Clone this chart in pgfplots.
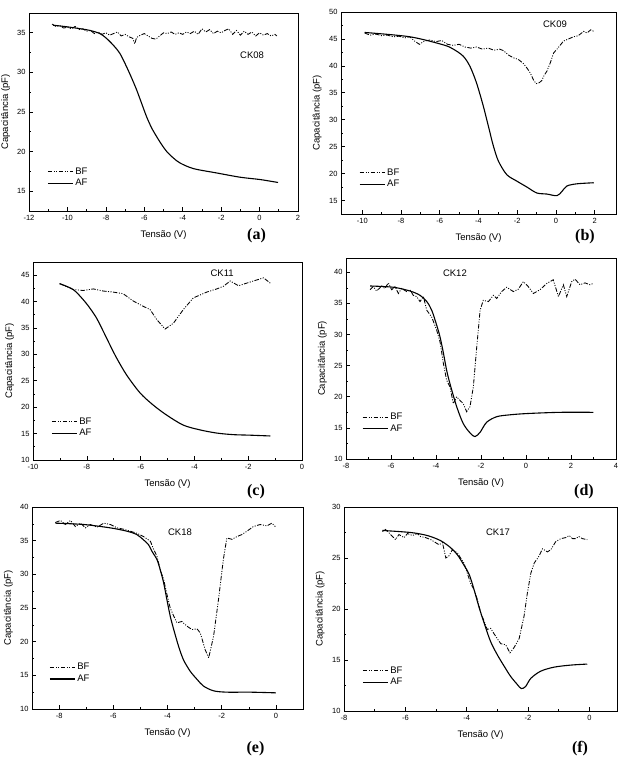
\documentclass[border=0pt]{standalone}
\usepackage{fontspec}
\setmainfont{Liberation Sans}
\newfontfamily\lettersfont{Liberation Serif}
\usepackage{pgfplots}
\pgfplotsset{compat=1.18}
\tikzset{cklabel/.style={font=\fontsize{9.5}{10}\selectfont}}
\pgfplotsset{
  panel/.style={
    scale only axis,
    anchor=south west,
    axis line style={line width=0.7pt},
    tick align=inside,
    xtick pos=bottom, ytick pos=left,
    minor x tick num=1, minor y tick num=1,
    major tick length=3.5pt, minor tick length=2pt,
    tick style={line width=0.6pt, black},
    ticklabel style={font=\fontsize{7.5}{8}\selectfont},
    xticklabel style={yshift=-1pt},
    /pgf/number format/assume math mode=true,
    scaled ticks=false,
    label style={font=\fontsize{9.5}{11}\selectfont},
    xlabel={Tensão (V)}, ylabel={Capacitância (pF)},
    xlabel style={at={(axis description cs:0.5,0)}, anchor=center, yshift=-24pt},
    ylabel style={at={(axis description cs:-0.087,0.5)}, anchor=center},
    legend style={draw=none, fill=none, inner sep=0pt, font=\fontsize{9.5}{10}\selectfont, anchor=west, row sep=-0.5pt},
    legend cell align=left,
    legend image code/.code={\draw[##1] (0cm,0cm) -- (0.88cm,0cm);},
  },
  bf/.style={black, line width=0.85pt, dash pattern=on 4.5pt off 1.5pt on 1pt off 1.5pt on 1pt off 1.5pt},
  af/.style={black, line width=1.1pt, smooth},
}
\begin{document}
\begin{tikzpicture}[x=1pt,y=1pt]
\useasboundingbox (0,0) rectangle (621,759);

% ---------------- (a) CK08 ----------------
\begin{axis}[panel, at={(29pt,548pt)}, width=269pt, height=198pt,
  xmin=-12, xmax=2, ymin=12.5, ymax=37.5,
  xtick={-12,-10,...,2}, ytick={15,20,...,35},
  legend style={at={(axis description cs:0.067,0.169)}}]
\addplot[bf] coordinates {
(-10.8,36.1) (-10.6,35.8) (-10.4,35.9) (-10.2,35.6) (-10.0,35.7) (-9.8,35.5) (-9.6,35.8) (-9.4,35.4) (-9.2,35.5) (-9.0,35.2) (-8.8,35.3) (-8.6,34.9) (-8.4,35.1) (-8.2,34.8) (-8.0,35.0) (-7.8,34.7) (-7.6,34.9) (-7.4,35.1) (-7.2,34.6) (-7.0,34.8) (-6.8,34.5) (-6.6,34.3) (-6.5,33.6) (-6.4,34.4) (-6.2,34.7) (-6.0,34.9) (-5.8,34.6) (-5.6,34.3) (-5.4,34.2) (-5.2,34.6) (-5.0,35.0) (-4.8,34.9) (-4.6,35.1) (-4.4,34.8) (-4.2,35.0) (-4.0,34.8) (-3.8,35.1) (-3.6,34.9) (-3.4,35.2) (-3.2,34.8) (-3.0,35.5) (-2.8,35.1) (-2.6,35.4) (-2.4,34.9) (-2.2,35.2) (-2.0,35.0) (-1.8,35.3) (-1.6,35.5) (-1.4,34.8) (-1.2,35.3) (-1.0,34.7) (-0.8,35.2) (-0.6,34.8) (-0.4,35.1) (-0.2,34.6) (0.0,35.0) (0.2,34.7) (0.4,34.9) (0.6,34.6) (0.8,34.8) (0.9,34.6)
};
\addlegendentry{BF}
\addplot[af] coordinates {
(-10.75,35.96) (-10.0,35.75) (-9.3,35.5) (-8.83,35.3) (-8.31,34.9) (-7.97,34.3) (-7.6,33.4) (-7.27,32.4) (-6.92,30.7) (-6.66,29.3) (-6.4,27.8) (-6.14,26.1) (-5.88,24.4) (-5.62,23.0) (-5.36,21.9) (-5.1,20.9) (-4.83,20.0) (-4.49,19.2) (-4.14,18.56) (-3.44,17.85) (-2.23,17.3) (-1.0,16.76) (0.03,16.47) (0.96,16.1)
};
\addlegendentry{AF}
\node[cklabel] at (axis cs:-0.39,32.2) {CK08};
\end{axis}

% ---------------- (b) CK09 ----------------
\begin{axis}[panel, at={(341pt,545pt)}, width=275pt, height=202pt,
  xmin=-11.1, xmax=3.1, ymin=12.5, ymax=50,
  xtick={-10,-8,...,2}, ytick={15,20,...,50},
  legend style={at={(axis description cs:0.065,0.176)}}]
\addplot[bf] coordinates {
(-9.88,46.1) (-9.6,45.7) (-9.3,45.9) (-9.0,45.6) (-8.7,45.7) (-8.4,45.4) (-8.1,45.5) (-7.8,45.2) (-7.55,45.4) (-7.3,44.6) (-7.05,44.0) (-6.8,44.6) (-6.5,44.8) (-6.2,44.5) (-5.9,44.7) (-5.6,44.0) (-5.3,43.8) (-5.0,44.0) (-4.7,43.5) (-4.4,43.3) (-4.1,43.5) (-3.8,43.1) (-3.5,43.3) (-3.2,42.9) (-2.9,43.1) (-2.7,42.8) (-2.45,42.0) (-2.2,41.5) (-1.95,41.2) (-1.7,40.5) (-1.5,39.6) (-1.33,38.7) (-1.15,37.3) (-1.02,36.7) (-0.85,36.9) (-0.73,37.3) (-0.6,38.3) (-0.47,39.0) (-0.3,40.5) (-0.12,42.4) (0.1,43.3) (0.39,44.6) (0.65,45.0) (0.91,45.4) (1.15,45.6) (1.43,46.4) (1.6,46.1) (1.8,46.7) (1.95,46.4)
};
\addlegendentry{BF}
\addplot[af] coordinates {
(-9.88,46.2) (-7.55,45.4) (-5.82,43.9) (-5.30,43.1) (-4.79,41.8) (-4.44,39.9) (-4.10,36.8) (-3.75,32.5) (-3.49,28.8) (-3.23,25.1) (-2.97,22.3) (-2.54,19.8) (-2.02,18.6) (-1.50,17.5) (-0.99,16.4) (-0.47,16.2) (0.05,15.9) (0.31,16.7) (0.57,17.7) (1.08,18.1) (1.95,18.3)
};
\addlegendentry{AF}
\node[cklabel] at (axis cs:-0.05,47.8) {CK09};
\end{axis}

% ---------------- (c) CK11 ----------------
\begin{axis}[panel, at={(33pt,299pt)}, width=269pt, height=198pt,
  xmin=-10, xmax=0, ymin=10, ymax=47.5,
  xtick={-10,-8,...,0}, ytick={10,15,...,45},
  legend style={at={(axis description cs:0.067,0.164)}}]
\addplot[bf] coordinates {
(-9.01,43.4) (-8.51,42.3) (-8.14,42.1) (-7.76,42.4) (-7.39,42.0) (-7.02,41.8) (-6.65,41.5) (-6.27,40.1) (-5.90,39.1) (-5.65,38.5) (-5.40,36.6) (-5.09,34.8) (-4.78,35.9) (-4.41,38.5) (-4.04,40.7) (-3.54,41.8) (-3.17,42.4) (-2.92,42.9) (-2.67,43.9) (-2.36,43.0) (-1.93,43.7) (-1.43,44.5) (-1.18,43.5)
};
\addlegendentry{BF}
\addplot[af] coordinates {
(-9.01,43.4) (-8.51,42.3) (-8.14,40.4) (-7.89,38.8) (-7.64,36.9) (-7.39,34.4) (-7.14,31.8) (-6.89,29.3) (-6.52,26.1) (-6.02,22.7) (-5.53,20.4) (-5.03,18.5) (-4.41,16.6) (-3.79,15.7) (-3.17,15.1) (-2.55,14.8) (-1.93,14.7) (-1.18,14.55)
};
\addlegendentry{AF}
\node[cklabel] at (axis cs:-2.97,45.4) {CK11};
\end{axis}

% ---------------- (d) CK12 ----------------
\begin{axis}[panel, at={(346pt,300pt)}, width=270pt, height=201pt,
  xmin=-8, xmax=4, ymin=10, ymax=42.3,
  xtick={-8,-6,...,4}, ytick={10,15,...,40},
  legend style={at={(axis description cs:0.059,0.18)}}]
\addplot[bf] coordinates {
(-6.93,37.2) (-6.79,37.7) (-6.64,37.0) (-6.41,37.8) (-6.27,37.4) (-6.12,38.3) (-5.97,37.2) (-5.82,37.7) (-5.67,36.6) (-5.53,37.4) (-5.30,36.9) (-5.16,37.2) (-5.01,36.3) (-4.86,36.1) (-4.71,35.3) (-4.56,36.1) (-4.41,33.9) (-4.19,32.8) (-3.97,30.7) (-3.82,28.8) (-3.67,25.3) (-3.53,22.7) (-3.38,21.6) (-3.23,18.9) (-3.08,20.0) (-2.93,19.4) (-2.79,18.9) (-2.64,17.6) (-2.49,18.4) (-2.34,21.6) (-2.19,28.0) (-2.04,33.9) (-1.90,35.5) (-1.67,35.3) (-1.45,36.3) (-1.30,35.8) (-1.08,36.9) (-0.86,37.6) (-0.56,36.9) (-0.34,37.3) (-0.12,38.5) (0.10,37.7) (0.33,36.6) (0.62,37.2) (0.92,38.2) (1.21,38.8) (1.44,36.1) (1.66,38.0) (1.81,36.1) (2.03,38.5) (2.18,38.9) (2.40,38.0) (2.62,38.3) (2.84,38.0) (2.99,38.2)
};
\addlegendentry{BF}
\addplot[af] coordinates {
(-6.93,37.8) (-5.90,37.6) (-5.16,37.0) (-4.71,36.3) (-4.41,35.3) (-4.19,33.9) (-3.97,31.5) (-3.82,29.6) (-3.67,27.0) (-3.53,24.3) (-3.38,22.1) (-3.08,18.4) (-2.79,15.7) (-2.49,14.2) (-2.27,13.6) (-2.04,14.3) (-1.75,15.9) (-1.30,16.8) (-0.71,17.1) (0.03,17.3) (1.51,17.5) (2.99,17.5)
};
\addlegendentry{AF}
\node[cklabel] at (axis cs:-3.16,39.9) {CK12};
\end{axis}

% ---------------- (e) CK18 ----------------
\begin{axis}[panel, at={(32pt,50pt)}, width=271pt, height=202pt,
  xmin=-9, xmax=1, ymin=10, ymax=40,
  xtick={-8,-6,...,0}, ytick={10,15,...,40},
  legend style={at={(axis description cs:0.063,0.177)}}]
\addplot[bf] coordinates {
(-8.14,37.7) (-7.95,38.0) (-7.77,37.4) (-7.58,38.0) (-7.40,37.1) (-7.21,37.6) (-7.03,36.9) (-6.85,37.4) (-6.60,37.0) (-6.35,37.6) (-6.11,37.4) (-5.86,36.9) (-5.62,36.7) (-5.37,36.4) (-5.13,36.1) (-4.88,35.6) (-4.63,34.9) (-4.51,33.7) (-4.39,32.7) (-4.27,30.7) (-4.14,29.2) (-4.02,27.0) (-3.90,25.0) (-3.77,23.8) (-3.65,22.8) (-3.47,23.0) (-3.28,22.3) (-3.10,21.8) (-2.91,21.9) (-2.79,21.3) (-2.61,18.8) (-2.48,17.6) (-2.30,20.8) (-2.12,26.2) (-1.94,32.2) (-1.81,35.4) (-1.62,35.2) (-1.44,35.6) (-1.26,35.9) (-1.07,36.4) (-0.83,37.1) (-0.58,37.4) (-0.33,37.2) (-0.15,37.6) (0.0,37.0)
};
\addlegendentry{BF}
\addplot[af] coordinates {
(-8.14,37.6) (-7.09,37.4) (-6.11,36.9) (-5.49,36.4) (-5.13,35.9) (-4.88,35.1) (-4.70,34.4) (-4.57,33.4) (-4.39,32.2) (-4.27,30.7) (-4.14,28.7) (-4.02,26.2) (-3.90,23.8) (-3.77,21.8) (-3.59,19.3) (-3.41,17.3) (-3.16,15.6) (-2.91,14.4) (-2.67,13.4) (-2.30,12.7) (-1.81,12.5) (-0.95,12.5) (0.0,12.4)
};
\addlegendentry{AF}
\node[cklabel] at (axis cs:-3.54,36.3) {CK18};
\end{axis}

% ---------------- (f) CK17 ----------------
\begin{axis}[panel, at={(344pt,48pt)}, width=273pt, height=204pt,
  xmin=-8, xmax=0.9, ymin=10, ymax=30,
  xtick={-8,-6,...,0}, ytick={10,15,...,30},
  legend style={at={(axis description cs:0.066,0.17)}}]
\addplot[bf] coordinates {
(-6.75,27.6) (-6.64,27.8) (-6.48,27.3) (-6.32,26.8) (-6.21,27.3) (-6.04,27.0) (-5.93,27.4) (-5.77,27.2) (-5.61,27.4) (-5.50,27.1) (-5.34,27.0) (-5.17,26.8) (-5.01,26.5) (-4.90,26.3) (-4.79,26.5) (-4.68,25.0) (-4.58,25.2) (-4.47,25.8) (-4.30,25.5) (-4.20,25.0) (-4.09,24.5) (-3.98,23.5) (-3.87,22.5) (-3.76,21.9) (-3.65,20.9) (-3.54,19.6) (-3.43,18.8) (-3.33,18.0) (-3.22,18.1) (-3.05,17.3) (-2.89,16.6) (-2.73,16.5) (-2.59,15.7) (-2.46,16.2) (-2.29,17.1) (-2.13,19.3) (-2.02,21.6) (-1.91,23.5) (-1.80,24.5) (-1.64,25.2) (-1.53,25.9) (-1.37,25.6) (-1.26,25.8) (-1.10,26.6) (-0.93,26.9) (-0.77,27.0) (-0.66,27.2) (-0.55,26.9) (-0.45,26.9) (-0.34,27.1) (-0.23,26.9) (-0.07,26.8)
};
\addlegendentry{BF}
\addplot[af] coordinates {
(-6.75,27.7) (-5.83,27.5) (-5.28,27.2) (-4.85,26.7) (-4.52,26.0) (-4.30,25.3) (-4.09,24.3) (-3.92,23.4) (-3.76,21.9) (-3.60,20.2) (-3.43,18.6) (-3.22,16.8) (-3.00,15.5) (-2.78,14.4) (-2.57,13.4) (-2.35,12.6) (-2.22,12.2) (-2.08,12.4) (-1.91,13.2) (-1.59,13.9) (-1.15,14.3) (-0.61,14.5) (-0.07,14.6)
};
\addlegendentry{AF}
\node[cklabel] at (axis cs:-2.98,27.5) {CK17};
\end{axis}

% panel letters
\begin{scope}[every node/.style={font=\lettersfont\bfseries\fontsize{16}{18}\selectfont}]
\node at (256.5,523) {(a)};
\node at (585,522) {(b)};
\node at (256,267) {(c)};
\node at (584,267) {(d)};
\node at (255.5,10.5) {(e)};
\node at (580,10.5) {(f)};
\end{scope}
\end{tikzpicture}
\end{document}
